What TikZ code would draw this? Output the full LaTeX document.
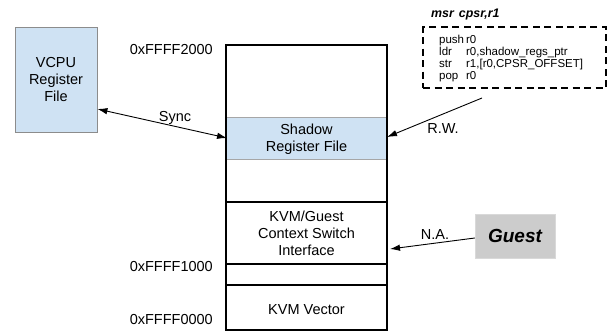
\documentclass[tikz,border=0pt]{standalone}
\usepackage{fontspec}
\setmainfont{Liberation Sans}
\usetikzlibrary{arrows.meta}
\definecolor{lblue}{HTML}{CFE2F3}
\definecolor{gbox}{HTML}{CCCCCC}
\begin{document}
\begin{tikzpicture}[x=1pt,y=-1pt,
  lbl/.style={font=\fontsize{14.5}{17}\selectfont, align=center, inner sep=0pt},
  addr/.style={font=\fontsize{14.5}{17}\selectfont, anchor=east, inner sep=0pt},
  conn/.style={line width=0.9pt, -{Latex[length=10pt,width=6.5pt]}},
  col/.style={line width=2.8pt},
  codebox/.style={draw, line width=2.8pt, dash pattern=on 7pt off 4.5pt},
  ]
\useasboundingbox (0,0) rectangle (612,332);
% VCPU
\node[draw=black!45, fill=lblue, line width=0.8pt, minimum width=82pt, minimum height=105pt, inner sep=0pt] (vcpu) at (56,79.5) {};
\node[lbl] (vcput) at (vcpu.center) {VCPU\\Register\\File};
% shadow fill
\node[draw=black!35, fill=lblue, line width=0.8pt, minimum width=160pt, minimum height=42pt, inner sep=0pt] (shadow) at (306.5,138) {};
\node[lbl] (shadowt) at (306.5,139) {Shadow\\Register File};
% column
\draw[col] (226,330) -- (226,45) -- (387,45) -- (387,330) -- cycle;
\draw[col] (226,202) -- (387,202);
\draw[col] (226,264) -- (387,264);
\draw[col] (226,285) -- (387,285);
\node[lbl] (kvmg) at (306.5,233.5) {KVM/Guest\\Context Switch\\Interface};
\node[lbl] (kvmv) at (306.5,310) {KVM Vector};
\coordinate (shadowL) at (227,138);
\coordinate (shadowR) at (387,137);
\coordinate (kvmgR) at (390,249);
% addresses
\node[addr] (a2) at (213,50) {0xFFFF2000};
\node[addr] (a1) at (213,267) {0xFFFF1000};
\node[addr] (a0) at (213,320) {0xFFFF0000};
% code box
\node[codebox, minimum width=183pt, minimum height=61pt, inner sep=0pt] (code) at (514.5,57.5) {};
\node[font=\fontsize{12.4}{14}\selectfont\bfseries\itshape, anchor=west, inner sep=0pt] (codet) at (431,15) {msr\hspace{5pt}cpsr,r1};
\node[font=\fontsize{11.5}{12}\selectfont, anchor=west, inner sep=0pt, align=left] (codel) at (439,59.5)
 {\begin{tabular}{@{}l@{\hspace{2pt}}l@{}}push & r0\\ ldr & r0,shadow\_regs\_ptr\\ str & r1,[r0,CPSR\_OFFSET]\\ pop & r0\end{tabular}};
\coordinate (codeS) at (482,98);
% guest
\node[fill=gbox, draw=black!15, minimum width=80pt, minimum height=44pt, inner sep=0pt, font=\fontsize{19}{22}\selectfont\bfseries\itshape] (guest) at (515,236) {Guest};
% connectors
\draw[conn, {Latex[length=10pt,width=6.5pt]}-{Latex[length=10pt,width=6.5pt]}] (vcpu.east |- 0,109) -- (shadowL);
\node[lbl] (sync) at (175,118) {Sync};
\draw[conn] (codeS) -- (shadowR);
\node[lbl] (rw) at (443,129) {R.W.};
\draw[conn] (guest.west) ++(0,2) coordinate (gW) (gW) -- (kvmgR);
\node[lbl] (na) at (435,235) {N.A.};
\end{tikzpicture}
\end{document}
